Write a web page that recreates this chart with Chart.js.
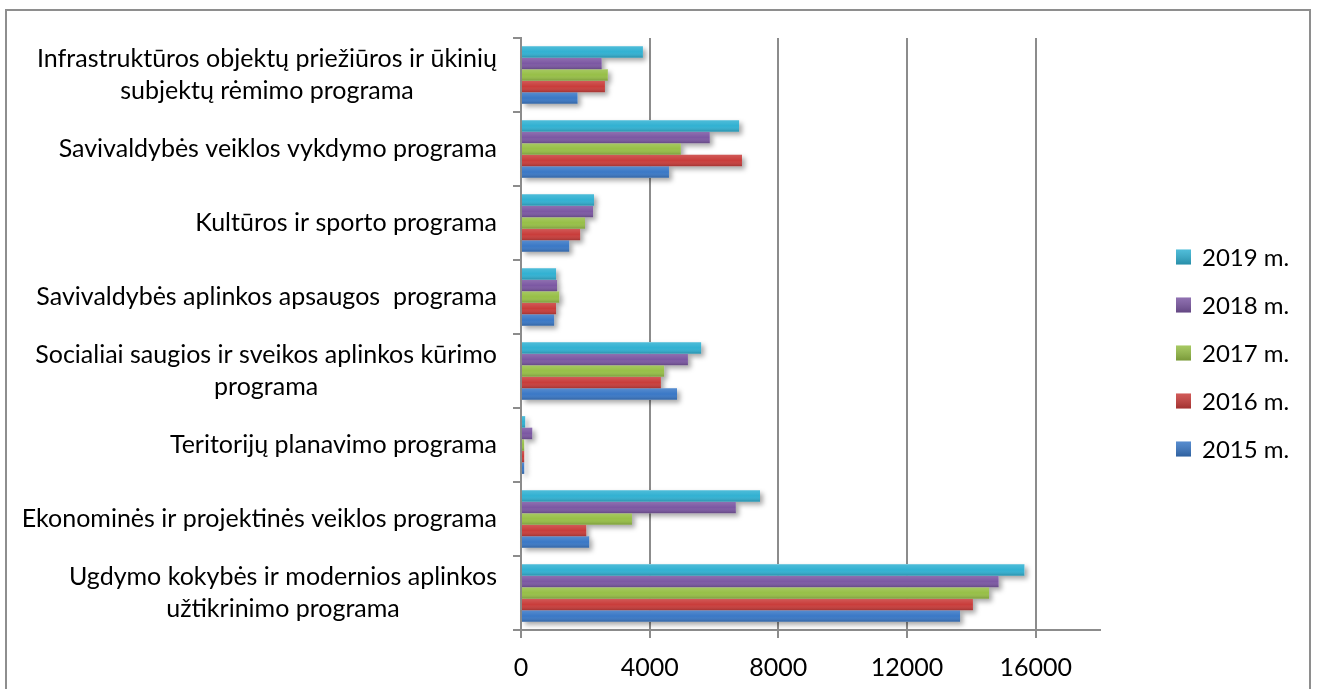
<!DOCTYPE html>
<html>
<head>
<meta charset="utf-8">
<title>Programų lėšos 2015–2019 m.</title>
<script src="https://cdn.jsdelivr.net/npm/chart.js@4.4.1/dist/chart.umd.min.js"></script>
<style>
  html, body { margin:0; padding:0; background:#fff; }
  #frame { position:absolute; left:5px; top:9px; width:1306px; height:700px; border:2px solid #8e8e8e; box-sizing:border-box; }
  #wrap { position:absolute; left:0; top:0; width:1317px; height:689px; }
</style>
</head>
<body>
<div id="frame"></div>
<div id="wrap"><canvas id="chart"></canvas></div>
<script>
// ----- Duomenys -----
const programos = [
  ['Infrastruktūros objektų priežiūros ir ūkinių', 'subjektų rėmimo programa'],
  ['Savivaldybės veiklos vykdymo programa'],
  ['Kultūros ir sporto programa'],
  ['Savivaldybės aplinkos apsaugos  programa'],
  ['Socialiai saugios ir sveikos aplinkos kūrimo', 'programa'],
  ['Teritorijų planavimo programa'],
  ['Ekonominės ir projektinės veiklos programa'],
  ['Ugdymo kokybės ir modernios aplinkos', 'užtikrinimo programa']
];
const metai = ['2019 m.', '2018 m.', '2017 m.', '2016 m.', '2015 m.'];
const v2019 = [3790, 6780, 2270, 1090, 5600, 130, 7430, 15650];
const v2018 = [2510, 5870, 2240, 1120, 5190, 350, 6680, 14850];
const v2017 = [2700, 4970, 1990, 1190, 4450, 100, 3450, 14550];
const v2016 = [2610, 6870, 1840, 1090, 4350, 100, 2030, 14050];
const v2015 = [1760, 4600, 1500, 1030, 4850, 100, 2120, 13650];
const xTicks = [0, 4000, 8000, 12000, 16000];
const xMax = 18000;

const spalvos = ['#31b1d2', '#7c58a3', '#97bf47', '#c93d3b', '#3a78c6'];
const serijos = [v2019, v2018, v2017, v2016, v2015];
const axisColor = '#8c8c8c';
const FONT = 'Lato';
const FSIZE = 25;

// ----- Šešėlis ir gradientas stulpeliams -----
function eachBar(chart, fn){
  chart.data.datasets.forEach((ds, i) => {
    chart.getDatasetMeta(i).data.forEach(bar => {
      const p = bar.getProps(['x', 'y', 'base', 'height'], true);
      fn(p.base, p.y - p.height/2, p.x - p.base, p.height);
    });
  });
}
const barEffects = {
  id: 'barEffects',
  beforeDatasetsDraw(chart){
    const ctx = chart.ctx;
    ctx.save();
    ctx.shadowColor = 'rgba(0,0,0,0.35)';
    ctx.shadowBlur = 5;
    ctx.shadowOffsetX = 3;
    ctx.shadowOffsetY = 3;
    ctx.fillStyle = '#fff';
    eachBar(chart, (x, y, w, h) => ctx.fillRect(x, y, w, h));
    ctx.restore();
  },
  afterDatasetsDraw(chart){
    const ctx = chart.ctx;
    ctx.save();
    eachBar(chart, (x, y, w, h) => {
      const g = ctx.createLinearGradient(0, y, 0, y + h);
      g.addColorStop(0, 'rgba(255,255,255,0.15)');
      g.addColorStop(0.5, 'rgba(255,255,255,0)');
      g.addColorStop(1, 'rgba(0,0,0,0.2)');
      ctx.fillStyle = g;
      ctx.fillRect(x, y, w, h);
    });
    ctx.restore();
  }
};

// ----- Kategorijų pavadinimai (eilutės centruotos bloke) -----
const yLabels = {
  id: 'yLabels',
  afterDraw(chart){
    const { ctx, chartArea } = chart;
    const y = chart.scales.y;
    ctx.save();
    ctx.font = `${FSIZE}px ${FONT}`;
    ctx.fillStyle = '#000';
    ctx.textAlign = 'center';
    ctx.textBaseline = 'middle';
    const right = chartArea.left - 24;
    chart.data.labels.forEach((lines, i) => {
      const cy = y.getPixelForValue(i);
      const w = Math.max(...lines.map(t => ctx.measureText(t).width));
      lines.forEach((t, j) => ctx.fillText(t, right - w/2, cy + (j - (lines.length - 1)/2) * 32));
    });
    ctx.restore();
  }
};

// ----- Legenda dešinėje -----
const sideLegend = {
  id: 'sideLegend',
  afterDraw(chart){
    const { ctx, chartArea } = chart;
    const x0 = chartArea.right + 76;
    const mid = (chartArea.top + chartArea.bottom)/2 + 19;
    const step = 48;
    const n = chart.data.datasets.length;
    ctx.save();
    ctx.font = `${FSIZE - 1}px ${FONT}`;
    ctx.textBaseline = 'middle';
    ctx.textAlign = 'left';
    chart.data.datasets.forEach((ds, i) => {
      const cy = mid + (i - (n - 1)/2) * step;
      ctx.fillStyle = ds.backgroundColor;
      ctx.fillRect(x0, cy - 7.5, 15, 15);
      const g = ctx.createLinearGradient(0, cy - 7.5, 0, cy + 7.5);
      g.addColorStop(0, 'rgba(255,255,255,0.15)');
      g.addColorStop(1, 'rgba(0,0,0,0.2)');
      ctx.fillStyle = g;
      ctx.fillRect(x0, cy - 7.5, 15, 15);
      ctx.fillStyle = '#000';
      ctx.fillText(ds.label, x0 + 26, cy + 1);
    });
    ctx.restore();
  }
};

function draw(){
  new Chart(document.getElementById('chart'), {
    type: 'bar',
    data: {
      labels: programos,
      datasets: metai.map((m, i) => ({
        label: m,
        data: serijos[i],
        backgroundColor: spalvos[i],
        borderWidth: 0,
        categoryPercentage: 0.78,
        barPercentage: 1
      }))
    },
    options: {
      indexAxis: 'y',
      responsive: true,
      maintainAspectRatio: false,
      animation: false,
      layout: { padding: { top: 38, right: 217, bottom: 0, left: 0 } },
      plugins: { legend: { display: false }, tooltip: { enabled: false } },
      scales: {
        x: {
          min: 0, max: xMax,
          afterBuildTicks(s){ s.ticks = xTicks.map(v => ({ value: v })); },
          afterFit(s){ s.height = 59; },
          ticks: { color: '#000', font: { family: FONT, size: FSIZE }, padding: 15, maxRotation: 0,
                   callback: v => String(v) },
          grid: { color: axisColor, lineWidth: 2, tickLength: 8 },
          border: { color: axisColor, width: 2 }
        },
        y: {
          afterFit(s){ s.width = 521; },
          ticks: { display: false },
          grid: { display: true, drawOnChartArea: false, offset: true, color: axisColor, lineWidth: 2, tickLength: 8 },
          border: { color: axisColor, width: 2 }
        }
      }
    },
    plugins: [barEffects, yLabels, sideLegend]
  });
}
document.fonts.load(`${FSIZE}px ${FONT}`).then(draw, draw);
</script>
</body>
</html>
